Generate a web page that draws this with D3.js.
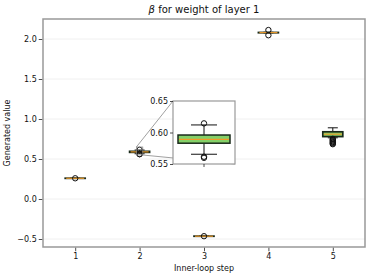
<!DOCTYPE html>
<html>
<head>
<meta charset="utf-8">
<script src="https://cdn.jsdelivr.net/npm/d3@7"></script>
<style>
  body { margin: 0; background: #fff; }
  text { font-family: "DejaVu Sans", sans-serif; fill: #111; }
</style>
</head>
<body>
<script>
// box summary per inner-loop step
var steps = [1, 2, 3, 4, 5];
var q1 = [0.258, 0.583, -0.466, 2.078, 0.780];
var medians = [0.259, 0.589, -0.465, 2.080, 0.810];
var q3 = [0.260, 0.596, -0.464, 2.082, 0.840];
var whiskerLow = [0.257, 0.5655, -0.467, 2.076, 0.765];
var whiskerHigh = [0.261, 0.612, -0.463, 2.084, 0.890];
var outliers = [
  [0.259],
  [0.6145, 0.5615, 0.5598],
  [-0.465],
  [2.112, 2.047],
  [0.752, 0.742, 0.732, 0.722, 0.712, 0.703, 0.694, 0.685]
];
var yTicks = [-0.5, 0.0, 0.5, 1.0, 1.5, 2.0];
var insetTicks = [0.55, 0.60, 0.65];

var width = 374, height = 278;
var svg = d3.select("body").append("svg").attr("width", width).attr("height", height);

var x = d3.scaleLinear().domain([0.5, 5.5]).range([43, 365]);
var y = d3.scaleLinear().domain([-0.6, 2.25]).range([247, 19]);

var boxes = steps.map(function (s, i) {
  return { step: s, q1: q1[i], med: medians[i], q3: q3[i], lo: whiskerLow[i], hi: whiskerHigh[i], out: outliers[i] };
});

// grid
svg.append("g").selectAll("line").data(yTicks).enter().append("line")
  .attr("x1", x(0.5)).attr("x2", x(5.5))
  .attr("y1", function (d) { return y(d); }).attr("y2", function (d) { return y(d); })
  .style("stroke", "#ececec").style("stroke-width", 0.8);

function drawBoxes(g, data, xs, ys, boxW, edgeW, medW) {
  var b = g.selectAll("g.box").data(data).enter().append("g").attr("class", "box");
  b.append("line")
    .attr("x1", function (d) { return xs(d.step); }).attr("x2", function (d) { return xs(d.step); })
    .attr("y1", function (d) { return ys(d.hi); }).attr("y2", function (d) { return ys(d.q3); })
    .style("stroke", "#111").style("stroke-width", 1);
  b.append("line")
    .attr("x1", function (d) { return xs(d.step); }).attr("x2", function (d) { return xs(d.step); })
    .attr("y1", function (d) { return ys(d.q1); }).attr("y2", function (d) { return ys(d.lo); })
    .style("stroke", "#111").style("stroke-width", 1);
  ["hi", "lo"].forEach(function (k) {
    b.append("line")
      .attr("x1", function (d) { return xs(d.step) - boxW / 4; }).attr("x2", function (d) { return xs(d.step) + boxW / 4; })
      .attr("y1", function (d) { return ys(d[k]); }).attr("y2", function (d) { return ys(d[k]); })
      .style("stroke", "#111").style("stroke-width", 1);
  });
  b.append("rect")
    .attr("x", function (d) { return xs(d.step) - boxW / 2; })
    .attr("y", function (d) { return ys(d.q3); })
    .attr("width", boxW)
    .attr("height", function (d) { return Math.max(0.01, ys(d.q1) - ys(d.q3)); })
    .style("fill", "#84d068").style("stroke", "#1a2a1a").style("stroke-width", edgeW);
  b.append("line")
    .attr("x1", function (d) { return xs(d.step) - boxW / 2 + 1; }).attr("x2", function (d) { return xs(d.step) + boxW / 2 - 1; })
    .attr("y1", function (d) { return ys(d.med); }).attr("y2", function (d) { return ys(d.med); })
    .style("stroke", "#f09a28").style("stroke-width", medW);
  b.selectAll("circle").data(function (d) { return d.out.map(function (v) { return { step: d.step, v: v }; }); })
    .enter().append("circle")
    .attr("cx", function (d) { return xs(d.step); })
    .attr("cy", function (d) { return ys(d.v); })
    .attr("r", 2.7)
    .style("fill", "none").style("stroke", "#111").style("stroke-width", 1);
}

drawBoxes(svg.append("g"), boxes, x, y, 20, 1.7, 1.1);

// spines
svg.append("rect").attr("x", x(0.5)).attr("y", y(2.25)).attr("width", x(5.5) - x(0.5)).attr("height", y(-0.6) - y(2.25))
  .style("fill", "none").style("stroke", "#999").style("stroke-width", 1.5);

// axes
var yAxis = svg.append("g").attr("transform", "translate(" + (x(0.5) - 0.75) + ",0)")
  .call(d3.axisLeft(y).tickValues(yTicks).tickSize(3.5).tickPadding(2).tickFormat(function (d) { return d < 0 ? "\u2212" + d3.format(".1f")(-d) : d3.format(".1f")(d); }));
var xAxis = svg.append("g").attr("transform", "translate(0," + (y(-0.6) + 0.75) + ")")
  .call(d3.axisBottom(x).tickValues(steps).tickSize(3.5).tickPadding(2).tickFormat(d3.format("d")));
[yAxis, xAxis].forEach(function (a) {
  a.select(".domain").remove();
  a.selectAll("text").style("font-size", "8px").style("font-family", "DejaVu Sans, sans-serif").style("fill", "#111");
  a.selectAll("line").style("stroke", "#222").style("stroke-width", 0.8);
});

// labels
svg.append("text").attr("x", 204).attr("y", 13).attr("text-anchor", "middle").style("font-size", "10px")
  .html('<tspan font-style="italic">\u03b2</tspan> for weight of layer 1');
svg.append("text").attr("x", 204).attr("y", 271).attr("text-anchor", "middle").style("font-size", "8px").text("Inner-loop step");
svg.append("text").attr("transform", "translate(10,133) rotate(-90)").attr("text-anchor", "middle").style("font-size", "8px").text("Generated value");

// inset
var ix = d3.scaleLinear().domain([1.95, 2.05]).range([173, 235]);
var iy = d3.scaleLinear().domain([0.55, 0.65]).range([164, 101]);

// indicator rect and connectors
svg.append("rect").attr("x", x(1.95)).attr("y", y(0.65)).attr("width", x(2.05) - x(1.95)).attr("height", y(0.55) - y(0.65))
  .style("fill", "none").style("stroke", "#888").style("stroke-width", 0.7);
svg.append("line").attr("x1", ix(1.95)).attr("y1", iy(0.65)).attr("x2", x(1.95)).attr("y2", y(0.65))
  .style("stroke", "#888").style("stroke-width", 0.8);
svg.append("line").attr("x1", ix(2.05)).attr("y1", iy(0.55)).attr("x2", x(2.05)).attr("y2", y(0.55))
  .style("stroke", "#888").style("stroke-width", 0.8);

var inset = svg.append("g");
inset.append("rect").attr("x", 173).attr("y", 101).attr("width", 62).attr("height", 63).style("fill", "#fff");
drawBoxes(inset, [boxes[1]], ix, iy, 52, 1.5, 1.3);
inset.append("rect").attr("x", 173).attr("y", 101).attr("width", 62).attr("height", 63)
  .style("fill", "none").style("stroke", "#999").style("stroke-width", 1.2);
var iAxis = inset.append("g").attr("transform", "translate(173,0)")
  .call(d3.axisLeft(iy).tickValues(insetTicks).tickSize(3).tickPadding(2).tickFormat(d3.format(".2f")));
iAxis.select(".domain").remove();
iAxis.selectAll("text").style("font-size", "8px").style("font-family", "DejaVu Sans, sans-serif").style("fill", "#111");
iAxis.selectAll("line").style("stroke", "#222").style("stroke-width", 0.8);
inset.append("line").attr("x1", ix(2)).attr("x2", ix(2)).attr("y1", 164).attr("y2", 167)
  .style("stroke", "#222").style("stroke-width", 0.8);
</script>
</body>
</html>
